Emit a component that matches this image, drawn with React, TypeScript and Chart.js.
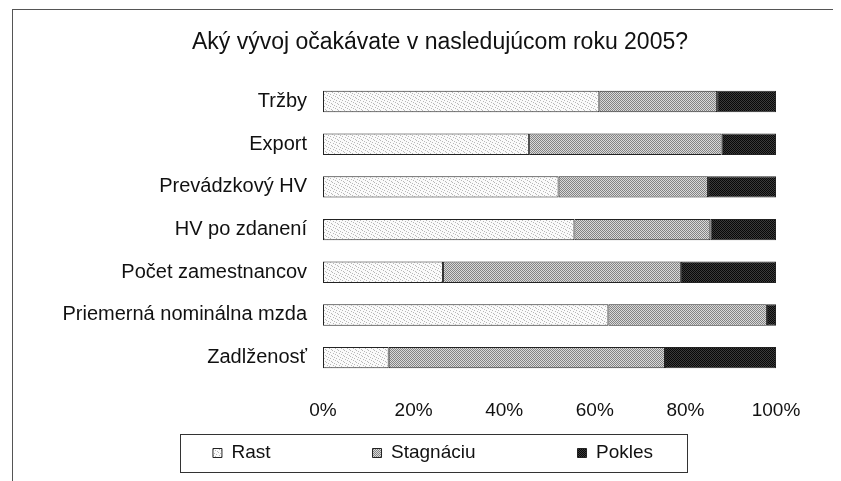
import React, { useEffect, useRef } from "react";
import { Chart, registerables } from "chart.js";

Chart.register(...registerables);

const titleText = "Aký vývoj očakávate v nasledujúcom roku 2005?";
const categories = [
  "Tržby",
  "Export",
  "Prevádzkový HV",
  "HV po zdanení",
  "Počet zamestnancov",
  "Priemerná nominálna mzda",
  "Zadlženosť",
];
const seriesNames = ["Rast", "Stagnáciu", "Pokles"];
const rast = [61, 45.5, 52, 55.5, 26.5, 63, 14.5];
const stagnacia = [26, 42.5, 33, 30, 52.5, 35, 61];
const pokles = [13, 12, 15, 14.5, 21, 2, 24.5];
const xTicks = [0, 20, 40, 60, 80, 100];

const FONT = "'Liberation Sans', Arial, Helvetica, sans-serif";
const TITLE_CX = 432;
const LEGEND_CX = 425;
const LEGEND_PAD = 102;
const LEGEND_BOX_H = 38;
const LEGEND_BOX_W = 507;

function makePattern(base: string, dot: string, size: number, dots: number[][]) {
  const c = document.createElement("canvas");
  c.width = size;
  c.height = size;
  const g = c.getContext("2d")!;
  g.fillStyle = base;
  g.fillRect(0, 0, size, size);
  g.fillStyle = dot;
  dots.forEach(([x, y]) => g.fillRect(x, y, 1, 1));
  return g.createPattern(c, "repeat")!;
}

const tweaks = {
  id: "tweaks",
  afterLayout(chart: any) {
    const t = chart.titleBlock;
    if (t) {
      const d = TITLE_CX - (t.left + t.right) / 2;
      t.left += d;
      t.right += d;
    }
    const l = chart.legend;
    if (l) {
      const d = LEGEND_CX - (l.left + l.right) / 2;
      l.left += d;
      l.right += d;
      chart.$legendTop = l.top;
      l.top = l.top + LEGEND_BOX_H / 2 - LEGEND_PAD - 9.5;
    }
  },
  beforeDraw(chart: any) {
    const ctx = chart.ctx;
    ctx.save();
    ctx.fillStyle = "#ffffff";
    ctx.fillRect(0, 0, chart.width, chart.height);
    ctx.strokeStyle = "#555";
    ctx.lineWidth = 1;
    ctx.strokeRect(4.5, 1.5, chart.width - 5, chart.height + 20);
    ctx.restore();
  },
  afterDraw(chart: any) {
    const ctx = chart.ctx;
    const top = chart.$legendTop;
    if (top === undefined) return;
    ctx.save();
    ctx.strokeStyle = "#333";
    ctx.lineWidth = 1;
    ctx.strokeRect(
      Math.round(LEGEND_CX - LEGEND_BOX_W / 2) + 0.5,
      Math.round(top) + 0.5,
      LEGEND_BOX_W,
      LEGEND_BOX_H
    );
    ctx.restore();
  },
};

export default function App() {
  const ref = useRef<HTMLCanvasElement | null>(null);

  useEffect(() => {
    if (!ref.current) return;
    const rastFill = makePattern("#fafafa", "#b8b8b8", 6, [
      [0, 0],
      [2, 1],
      [4, 2],
      [1, 3],
      [3, 4],
      [5, 5],
    ]);
    const stagFill = makePattern("#dadada", "#838383", 2, [
      [0, 0],
      [1, 1],
    ]);
    const poklesFill = makePattern("#3a3a3a", "#080808", 2, [
      [0, 0],
      [1, 1],
    ]);
    const fills = [rastFill, stagFill, poklesFill];
    const values = [rast, stagnacia, pokles];

    const chart = new Chart(ref.current, {
      type: "bar",
      data: {
        labels: categories,
        datasets: seriesNames.map((name, i) => ({
          label: name,
          data: values[i],
          backgroundColor: fills[i],
          borderColor: "#222",
          borderWidth: 1,
          borderSkipped: false,
          categoryPercentage: 1,
          barPercentage: 0.5,
        })),
      },
      options: {
        indexAxis: "y",
        responsive: true,
        maintainAspectRatio: false,
        animation: false,
        layout: { padding: { left: 0, right: 63, top: 0, bottom: 9 } },
        scales: {
          x: {
            stacked: true,
            min: 0,
            max: 100,
            grid: { display: false, drawTicks: false },
            border: { display: false },
            afterBuildTicks: (s: any) => {
              s.ticks = xTicks.map((v) => ({ value: v }));
            },
            afterFit: (s: any) => {
              s.height = 55;
            },
            ticks: {
              padding: 20,
              labelOffset: 0,
              color: "#111",
              font: { family: FONT, size: 19 },
              callback: (v: any) => v + "%",
            },
          },
          y: {
            stacked: true,
            grid: { display: false, drawTicks: false },
            border: { display: false },
            afterFit: (s: any) => {
              s.width = 315;
            },
            ticks: {
              padding: 16,
              color: "#111",
              font: { family: FONT, size: 20 },
            },
          },
        },
        plugins: {
          title: {
            display: true,
            text: titleText,
            color: "#111",
            font: { family: FONT, size: 23, weight: "normal" },
            padding: { top: 21, bottom: 23.6 },
          },
          legend: {
            position: "bottom",
            maxHeight: LEGEND_BOX_H,
            labels: {
              boxWidth: 9,
              boxHeight: 9,
              padding: LEGEND_PAD,
              color: "#111",
              font: { family: FONT, size: 19 },
            },
          },
          tooltip: { enabled: false },
        },
      },
      plugins: [tweaks],
    });
    return () => chart.destroy();
  }, []);

  return (
    <div style={{ position: "relative", width: 831, height: 473 }}>
      <canvas ref={ref} />
    </div>
  );
}
